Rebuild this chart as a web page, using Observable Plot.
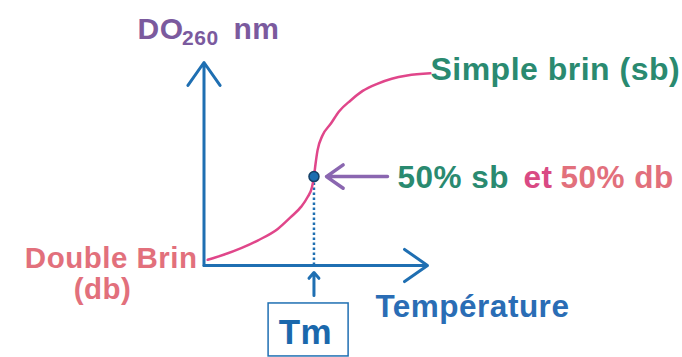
<!DOCTYPE html>
<html>
<head>
<meta charset="utf-8">
<script src="https://cdn.jsdelivr.net/npm/d3@7"></script>
<script src="https://cdn.jsdelivr.net/npm/@observablehq/plot@0.6"></script>
<style>
  html, body { margin: 0; padding: 0; background: #fff; }
  #chart svg text { letter-spacing: 0.5px; }
</style>
</head>
<body>
<div id="chart"></div>
<script>
// Melting curve (temperature in arbitrary units 0–100, DO260 relative 0–1)
const temperature = [1.65, 9.1, 24, 33, 38.8, 43.5, 46.3, 48.3, 49.2, 49.9, 50.8, 53, 56.7, 60.5, 65.6, 71, 77.5, 84, 90.9, 101.3];
const absorbance  = [0.028, 0.054, 0.123, 0.18, 0.238, 0.29, 0.336, 0.385, 0.438, 0.5, 0.567, 0.64, 0.698, 0.76, 0.813, 0.86, 0.895, 0.92, 0.936, 0.947];
const tm = 49.2;            // melting temperature
const tmAbsorbance = 0.438; // 50% sb / 50% db

const curve = temperature.map((t, i) => ({t, a: absorbance[i]}));

const font = "'Liberation Sans', Arial, Helvetica, sans-serif";
const blue = "#1f6fb2";
const green = "#2a8a70";
const salmon = "#e2707c";
const magenta = "#d94a84";
const purple = "#7b5a9e";

const chart = Plot.plot({
  width: 682,
  height: 357,
  margin: 0,
  style: {background: "#fff", overflow: "visible", fontFamily: font},
  x: {domain: [0, 100], range: [203.5, 427], axis: null},
  y: {domain: [0, 1], range: [265, 62], axis: null},
  marks: [
    // axes
    Plot.arrow([0], {x1: 0, y1: 0, x2: 0, y2: 1, stroke: blue, strokeWidth: 3, headLength: 14, headAngle: 70}),
    Plot.arrow([0], {x1: 0, y1: 0, x2: 100, y2: 0, stroke: blue, strokeWidth: 3, headLength: 14, headAngle: 70}),
    // dotted Tm line
    Plot.ruleX([tm], {y1: 0, y2: tmAbsorbance, stroke: blue, strokeWidth: 2.5, strokeDasharray: "2.5,2.5"}),
    // curve
    Plot.line(curve, {x: "t", y: "a", curve: "monotone-x", stroke: "#e0468a", strokeWidth: 2.5}),
    // midpoint
    Plot.dot([tm], {x: d => d, y: tmAbsorbance, r: 5, fill: "#1c6db0", stroke: "#153f66", strokeWidth: 1.5}),
    // purple pointer
    Plot.arrow([0], {x1: 82.1, y1: tmAbsorbance, x2: 54.8, y2: tmAbsorbance, stroke: "#8a66b0", strokeWidth: 3.5, headLength: 14, headAngle: 70}),
    // Tm pointer and box
    Plot.arrow([tm], {x1: d => d, y1: -0.148, x2: d => d, y2: -0.034, stroke: blue, strokeWidth: 3, headLength: 11, headAngle: 80}),
    Plot.rect([0], {x1: 28.9, x2: 64.7, y1: -0.187, y2: -0.448, fill: "none", stroke: blue, strokeWidth: 1.5}),
    Plot.text(["Tm"], {x: 45.4, y: -0.389, text: d => d, textAnchor: "middle", lineAnchor: "bottom", fontSize: 35, fontWeight: "bold", fill: "#1a68ac"}),
    // y label
    Plot.text(["DO"], {x: -29.75, y: 1.118, text: d => d, textAnchor: "start", lineAnchor: "bottom", fontSize: 30, fontWeight: "bold", fill: purple}),
    Plot.text(["260"], {x: -9.8, y: 1.084, text: d => d, textAnchor: "start", lineAnchor: "bottom", fontSize: 21, fontWeight: "bold", fill: purple}),
    Plot.text(["nm"], {x: 13.2, y: 1.118, text: d => d, textAnchor: "start", lineAnchor: "bottom", fontSize: 30, fontWeight: "bold", fill: purple}),
    // x label
    Plot.text(["Température"], {x: 76.7, y: -0.256, text: d => d, textAnchor: "start", lineAnchor: "bottom", fontSize: 31.5, fontWeight: "bold", fill: "#2a6db5"}),
    // state labels
    Plot.text(["Simple brin (sb)"], {x: 101.3, y: 0.916, text: d => d, textAnchor: "start", lineAnchor: "bottom", fontSize: 32, fontWeight: "bold", fill: green}),
    Plot.text(["Double Brin"], {x: -2.9, y: -0.01, text: d => d, textAnchor: "end", lineAnchor: "bottom", fontSize: 29.5, fontWeight: "bold", fill: salmon}),
    Plot.text(["(db)"], {x: -45.4, y: -0.165, text: d => d, textAnchor: "middle", lineAnchor: "bottom", fontSize: 29.5, fontWeight: "bold", fill: salmon}),
    Plot.text(["50% sb"], {x: 86.6, y: 0.384, text: d => d, textAnchor: "start", lineAnchor: "bottom", fontSize: 31.5, fontWeight: "bold", fill: green}),
    Plot.text(["et"], {x: 143.0, y: 0.384, text: d => d, textAnchor: "start", lineAnchor: "bottom", fontSize: 31.5, fontWeight: "bold", fill: magenta}),
    Plot.text(["50% db"], {x: 159.5, y: 0.384, text: d => d, textAnchor: "start", lineAnchor: "bottom", fontSize: 31.5, fontWeight: "bold", fill: salmon})
  ]
});
document.getElementById("chart").appendChild(chart);
</script>
</body>
</html>
